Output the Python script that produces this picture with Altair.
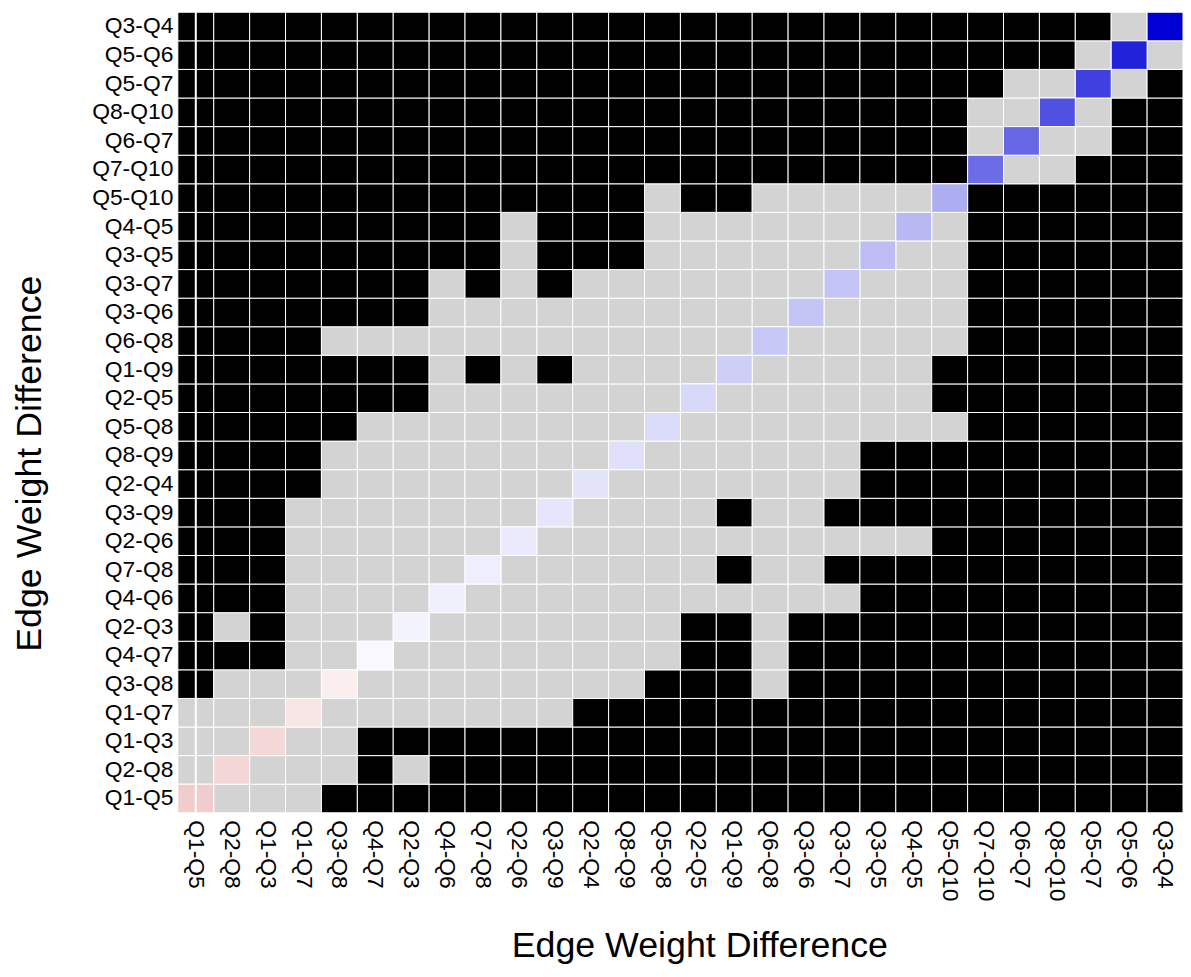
import altair as alt
import pandas as pd

# Edges, ordered by estimated edge weight (bottom/left = smallest)
edges = ["Q1-Q5", "Q2-Q8", "Q1-Q3", "Q1-Q7", "Q3-Q8", "Q4-Q7", "Q2-Q3",
         "Q4-Q6", "Q7-Q8", "Q2-Q6", "Q3-Q9", "Q2-Q4", "Q8-Q9", "Q5-Q8",
         "Q2-Q5", "Q1-Q9", "Q6-Q8", "Q3-Q6", "Q3-Q7", "Q3-Q5", "Q4-Q5",
         "Q5-Q10", "Q7-Q10", "Q6-Q7", "Q8-Q10", "Q5-Q7", "Q5-Q6", "Q3-Q4"]

# Estimated edge weights (diagonal fill), same order as edges
weights = [-0.080, -0.064, -0.061, -0.039, -0.027, 0.011, 0.019,
           0.024, 0.027, 0.033, 0.041, 0.044, 0.049, 0.058,
           0.061, 0.077, 0.086, 0.091, 0.094, 0.104, 0.111,
           0.129, 0.230, 0.237, 0.274, 0.300, 0.347, 0.400]

# Significance of difference: row i (edge i), column j (edge j)
# '#' = significant (black), '.' = not significant (grey), 'D' = diagonal
sig_rows = [
    "D...### ####### ####### #######",  # Q1-Q5
    ".D...#. ####### ####### #######",  # Q2-Q8
    "..D..## ####### ####### #######",  # Q1-Q3
    "...D... ....### ####### #######",  # Q1-Q7
    "#...D.. ......# ##.#### #######",  # Q3-Q8
    "###..D. ....... ##.#### #######",  # Q4-Q7
    "#.#...D ....... ##.#### #######",  # Q2-Q3
    "###.... D...... .....## #######",  # Q4-Q6
    "###.... .D..... .#..### #######",  # Q7-Q8
    "###.... ..D.... ....... #######",  # Q2-Q6
    "###.... ...D... .#..### #######",  # Q3-Q9
    "####... ....D.. .....## #######",  # Q2-Q4
    "####... .....D. .....## #######",  # Q8-Q9
    "#####.. ......D ....... .######",  # Q5-Q8
    "####### ....... D...... #######",  # Q2-Q5
    "####### .#.#... .D..... #######",  # Q1-Q9
    "####... ....... ..D.... .######",  # Q6-Q8
    "####### ....... ...D... .######",  # Q3-Q6
    "####### .#.#... ....D.. .######",  # Q3-Q7
    "####### ##.###. .....D. .######",  # Q3-Q5
    "####### ##.###. ......D .######",  # Q4-Q5
    "####### ######. ##..... D######",  # Q5-Q10
    "####### ####### ####### #D..###",  # Q7-Q10
    "####### ####### ####### #.D..##",  # Q6-Q7
    "####### ####### ####### #..D.##",  # Q8-Q10
    "####### ####### ####### ##..D.#",  # Q5-Q7
    "####### ####### ####### ####.D.",  # Q5-Q6
    "####### ####### ####### #####.D",  # Q3-Q4
]

rows = [r.replace(" ", "") for r in sig_rows]

off_records = []
diag_records = []
for i, r in enumerate(rows):
    for j, ch in enumerate(r):
        if ch == "D":
            diag_records.append({"x": edges[j], "y": edges[i], "w": weights[i]})
        else:
            off_records.append({"x": edges[j], "y": edges[i],
                                "sig": "sig" if ch == "#" else "nonsig"})

off_df = pd.DataFrame(off_records)
diag_df = pd.DataFrame(diag_records)
split_df = pd.DataFrame({"x": [edges[0]]})

FONT = "Liberation Sans"

x_enc = alt.X("x:N", sort=edges, title="Edge Weight Difference",
              scale=alt.Scale(paddingInner=0, paddingOuter=0),
              axis=alt.Axis(labelAngle=90, labelAlign="left", labelBaseline="middle",
                            labelFontSize=23, labelFont=FONT, labelColor="black",
                            labelPadding=7, ticks=False, domain=False,
                            titleFontSize=36, titleFont=FONT, titleFontWeight="normal",
                            titleColor="black", titleX=525, titleY=145,
                            titleAlign="center", titleBaseline="alphabetic"))
y_enc = alt.Y("y:N", sort=edges[::-1], title="Edge Weight Difference",
              scale=alt.Scale(paddingInner=0, paddingOuter=0),
              axis=alt.Axis(labelFontSize=23, labelFont=FONT, labelColor="black",
                            labelPadding=5, ticks=False, domain=False,
                            titleFontSize=36, titleFont=FONT, titleFontWeight="normal",
                            titleColor="black", titleX=-138, titleY=454,
                            titleAngle=270, titleAlign="center",
                            titleBaseline="alphabetic"))

off = alt.Chart(off_df).mark_rect(stroke="white", strokeWidth=1).encode(
    x=x_enc, y=y_enc,
    color=alt.Color("sig:N", scale=alt.Scale(domain=["sig", "nonsig"],
                                              range=["#000000", "#D3D3D3"]),
                    legend=None),
)

diag = alt.Chart(diag_df).mark_rect(stroke="white", strokeWidth=1).encode(
    x=alt.X("x:N", sort=edges),
    y=alt.Y("y:N", sort=edges[::-1]),
    color=alt.Color("w:Q", scale=alt.Scale(domain=[-0.40, 0, 0.40],
                                            range=["#B40000", "#FFFFFF", "#0000D5"],
                                            interpolate="rgb"),
                    legend=None),
)

# thin white split line through the middle of the first column (as in the reference)
split = alt.Chart(split_df).mark_rule(
    stroke="#FFFFFF", strokeWidth=2, opacity=1).encode(
    x=alt.X("x:N", sort=edges, bandPosition=0.5),
    y=alt.value(0), y2=alt.value("height"))

chart = alt.layer(off, diag, split).resolve_scale(color="independent").properties(
    width=1012, height=806,
    autosize=alt.AutoSizeParams(type="none"),
    padding={"left": 171, "top": 1, "right": 0, "bottom": 153},
).configure_view(stroke=None)

chart.save("out.html", embed_options={"renderer": "svg", "actions": False})
